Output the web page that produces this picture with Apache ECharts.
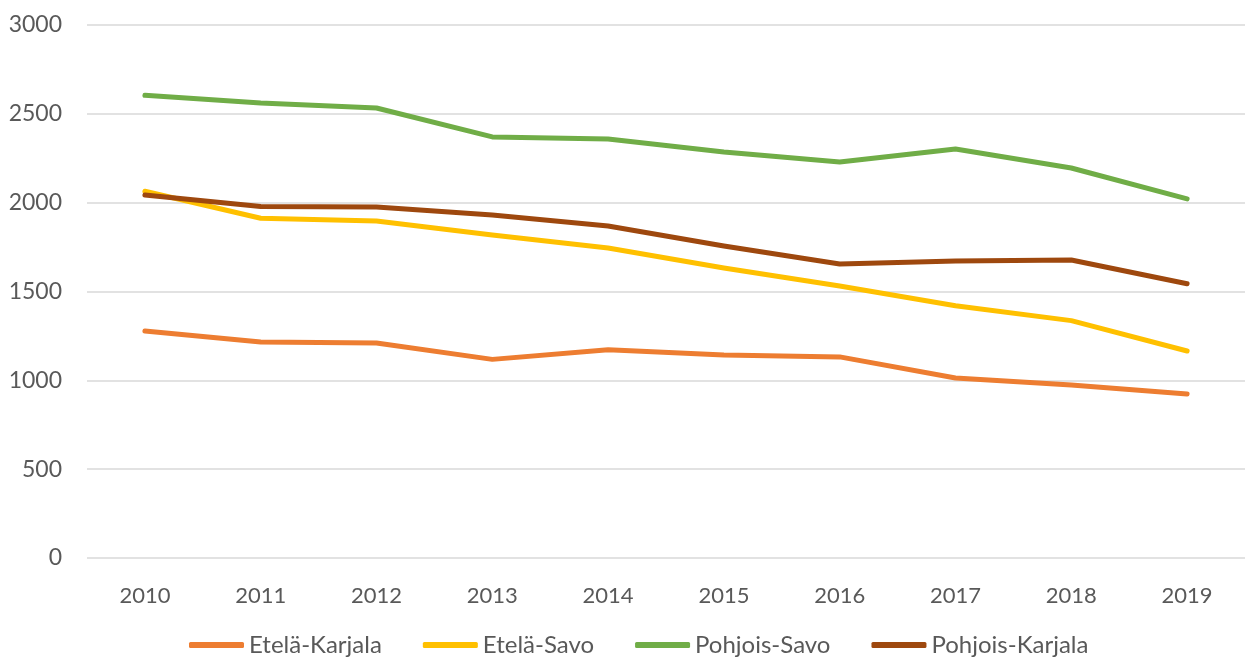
<!DOCTYPE html>
<html>
<head>
<meta charset="utf-8">
<script src="https://cdn.jsdelivr.net/npm/echarts@6/dist/echarts.min.js"></script>
<style>
  html, body { margin: 0; padding: 0; background: #fff; }
  #chart { width: 1245px; height: 661px; }
</style>
</head>
<body>
<div id="chart"></div>
<script>
const years = ['2010', '2011', '2012', '2013', '2014', '2015', '2016', '2017', '2018', '2019']
const seriesNames = ['Etelä-Karjala', 'Etelä-Savo', 'Pohjois-Savo', 'Pohjois-Karjala']
const etelaKarjala = [1278, 1216, 1210, 1118, 1172, 1143, 1132, 1013, 974, 923]
const etelaSavo = [2064, 1912, 1897, 1818, 1745, 1632, 1531, 1420, 1336, 1165]
const pohjoisSavo = [2604, 2561, 2533, 2370, 2358, 2285, 2229, 2302, 2195, 2021]
const pohjoisKarjala = [2043, 1979, 1976, 1931, 1869, 1756, 1655, 1672, 1677, 1544]
const colors = ['#ED7D31', '#FFC000', '#70AD47', '#9E480E']

const chart = echarts.init(document.getElementById('chart'))
const FONT = 'Lato, "Open Sans", sans-serif'

const lineSeries = (name, data) => ({
  name,
  type: 'line',
  data,
  symbol: 'none',
  lineStyle: { width: 5, cap: 'round', join: 'round' },
  emphasis: { disabled: true }
})

chart.setOption({
  color: colors,
  animation: false,
  textStyle: { fontFamily: FONT },
  grid: { left: 87, right: 0, top: 25, bottom: 103 },
  legend: {
    top: 631,
    left: 189,
    padding: 0,
    itemWidth: 55,
    itemHeight: 6,
    itemGap: 41,
    icon: 'roundRect',
    textStyle: { fontSize: 24, color: '#595959', fontFamily: FONT, lineHeight: 28 },
    data: seriesNames
  },
  xAxis: {
    type: 'category',
    data: years,
    boundaryGap: true,
    axisLine: { show: false },
    axisTick: { show: false },
    axisLabel: { fontSize: 22, color: '#595959', margin: 27, fontFamily: FONT }
  },
  yAxis: {
    type: 'value',
    min: 0,
    max: 3000,
    interval: 500,
    axisLine: { show: false },
    axisTick: { show: false },
    axisLabel: { fontSize: 23, color: '#595959', margin: 25, fontFamily: FONT, formatter: v => String(v) },
    splitLine: { lineStyle: { color: '#D9D9D9', width: 1.5 } }
  },
  series: [
    lineSeries(seriesNames[0], etelaKarjala),
    lineSeries(seriesNames[1], etelaSavo),
    lineSeries(seriesNames[2], pohjoisSavo),
    lineSeries(seriesNames[3], pohjoisKarjala)
  ]
})
</script>
</body>
</html>
